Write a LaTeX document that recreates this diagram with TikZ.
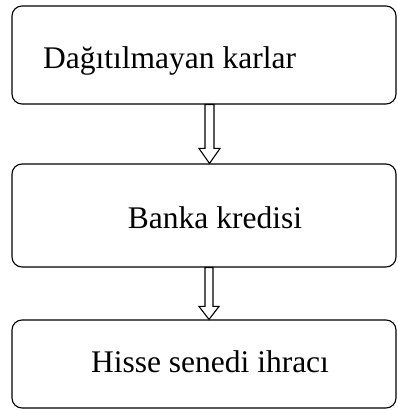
\documentclass[tikz,border=0pt]{standalone}
\usepackage{fontspec}
\setmainfont{Liberation Serif}
\usetikzlibrary{positioning, calc}

\tikzset{
  kutu/.style={draw=black, line width=1.1pt, rounded corners=10pt,
               minimum width=384pt, minimum height=#1, inner sep=0pt},
  yazi/.style={font=\fontsize{31.5}{36}\selectfont, inner sep=0pt},
  oklar/.style={draw=black, line width=1.1pt, fill=white, line join=miter}
}

\begin{document}
\begin{tikzpicture}[x=1pt, y=1pt]
  \useasboundingbox (0,0) rectangle (398,410);

  % kutular
  \node[kutu=98pt]  (kar)   at (204,355)   {};
  \node[kutu=103pt] (kredi) at (204,194.5) {};
  \node[kutu=88pt]  (hisse) at (204,46)    {};

  % metinler
  \node[yazi, anchor=base west] (karT)   at (43,341)  {Dağıtılmayan karlar};
  \node[yazi, anchor=base]      (krediT) at (215,181) {Banka kredisi};
  \node[yazi, anchor=base]      (hisseT) at (210,37)  {Hisse senedi ihracı};

  % oklar
  \draw[oklar] let \p1=(kar.south), \p2=(kredi.north) in
    (\x1+1pt,\y1) -- (\x1+1pt,\y2+15pt) -- (\x1-5pt,\y2+15pt) -- (\x1+5.5pt,\y2)
    -- (\x1+16pt,\y2+15pt) -- (\x1+10pt,\y2+15pt) -- (\x1+10pt,\y1) -- cycle;
  \draw[oklar] let \p1=(kredi.south), \p2=(hisse.north) in
    (\x1+1pt,\y1) -- (\x1+1pt,\y2+13pt) -- (\x1-5pt,\y2+13pt) -- (\x1+5pt,\y2)
    -- (\x1+15pt,\y2+13pt) -- (\x1+9pt,\y2+13pt) -- (\x1+9pt,\y1) -- cycle;
\end{tikzpicture}
\end{document}
